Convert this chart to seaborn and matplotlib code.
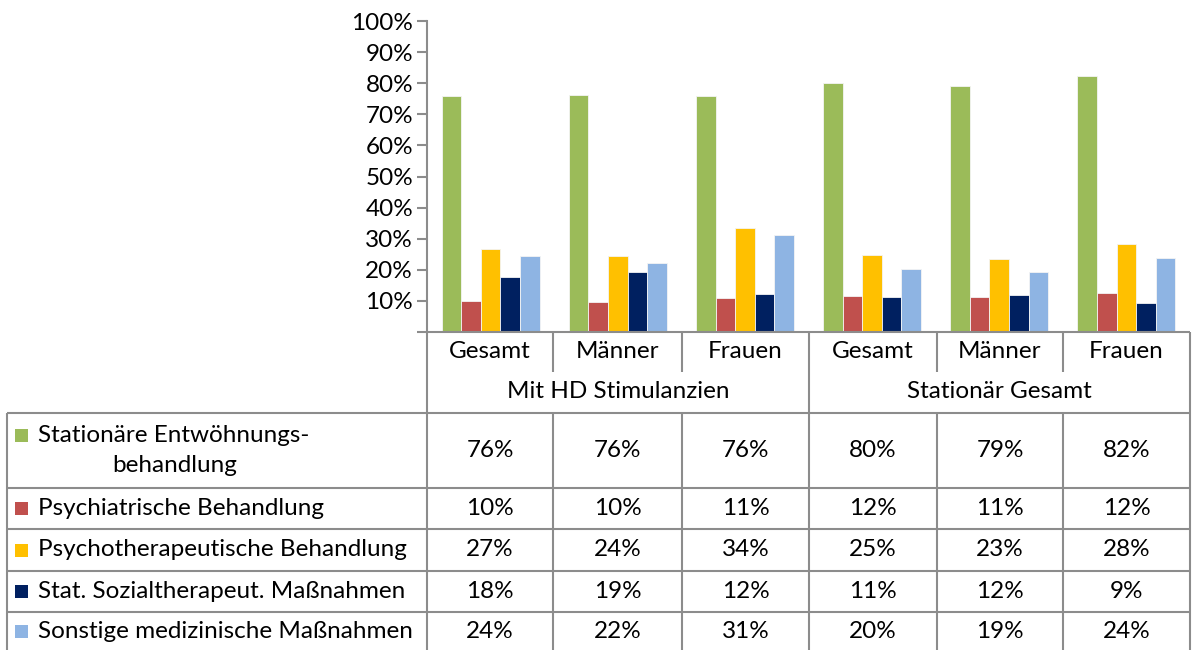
import matplotlib
matplotlib.use("Agg")
import matplotlib.pyplot as plt
from matplotlib.lines import Line2D
from matplotlib.patches import Rectangle
import seaborn as sns
import pandas as pd

# ---------------- data ----------------
groups = ["Mit HD Stimulanzien", "Stationär Gesamt"]
subgroups = ["Gesamt", "Männer", "Frauen"]
series = [
    "Stationäre Entwöhnungsbehandlung",
    "Psychiatrische Behandlung",
    "Psychotherapeutische Behandlung",
    "Stat. Sozialtherapeut. Maßnahmen",
    "Sonstige medizinische Maßnahmen",
]
series_labels = [
    "Stationäre Entwöhnungs-\nbehandlung",
    "Psychiatrische Behandlung",
    "Psychotherapeutische Behandlung",
    "Stat. Sozialtherapeut. Maßnahmen",
    "Sonstige medizinische Maßnahmen",
]
# values per column: HD Gesamt, HD Männer, HD Frauen, Stat Gesamt, Stat Männer, Stat Frauen
entwoehnung = [75.9, 76.2, 75.9, 80.0, 79.2, 82.4]
psychiatrisch = [10.0, 9.6, 10.9, 11.7, 11.4, 12.4]
psychotherapeutisch = [26.7, 24.4, 33.6, 24.6, 23.4, 28.2]
sozialtherapeutisch = [17.7, 19.3, 12.2, 11.2, 11.9, 9.2]
sonstige = [24.4, 22.2, 31.3, 20.4, 19.3, 23.7]
yticks = [0, 10, 20, 30, 40, 50, 60, 70, 80, 90, 100]

colors = ["#9BBB59", "#C0504D", "#FFC000", "#002060", "#8EB4E3"]

all_values = [entwoehnung, psychiatrisch, psychotherapeutisch, sozialtherapeutisch, sonstige]
col_keys = [f"{g}|{s}" for g in groups for s in subgroups]
rows = []
for sname, vals in zip(series, all_values):
    for key, v in zip(col_keys, vals):
        rows.append({"col": key, "series": sname, "val": v})
df = pd.DataFrame(rows)

# ---------------- figure ----------------
sns.set_theme(style="white")
FONT = ["Lato", "DejaVu Sans"]
plt.rcParams["font.family"] = FONT

W, H = 1194, 650
fig = plt.figure(figsize=(W / 100, H / 100), dpi=100)


def fx(x):
    return x / W


def fy(y):
    return 1 - y / H


x_left, x_right = 427, 1190
y_top, y_base = 21, 332
ax = fig.add_axes([fx(x_left), fy(y_base), (x_right - x_left) / W, (y_base - y_top) / H])

sns.barplot(data=df, x="col", y="val", hue="series", order=col_keys, hue_order=series,
            palette=colors, width=0.77, saturation=1, edgecolor="#f4f4f4", linewidth=0.6,
            legend=False, ax=ax)

FS = 17.5
ax.set_xlim(-0.5, len(col_keys) - 0.5)
ax.set_ylim(0, 100)
ax.set_yticks(yticks)
ax.set_yticklabels(["" if t == 0 else f"{t}%" for t in yticks])
ax.set_xticks([])
ax.set_xlabel("")
ax.set_ylabel("")
for s in ["top", "right", "bottom"]:
    ax.spines[s].set_visible(False)
ax.spines["left"].set_color("#8c8c8c")
ax.spines["left"].set_linewidth(1.5)
ax.tick_params(axis="y", direction="out", length=7, width=1.5, color="#8c8c8c",
               labelsize=FS, labelcolor="black", pad=3, left=True)

# ---------------- data table ----------------
LC = "#8c8c8c"
LW = 1.5


def hline(x1, x2, y):
    fig.add_artist(Line2D([fx(x1), fx(x2)], [fy(y), fy(y)], transform=fig.transFigure,
                          color=LC, lw=LW, solid_capstyle="butt"))


def vline(x, y1, y2):
    fig.add_artist(Line2D([fx(x), fx(x)], [fy(y1), fy(y2)], transform=fig.transFigure,
                          color=LC, lw=LW, solid_capstyle="butt"))


col_x = [427, 553, 682, 809, 937, 1063, 1190]
row_y = [413, 488, 529, 571, 612, 650]
left_x = 7

hline(x_left, x_right, y_base)
hline(left_x, x_right, row_y[0])
for y in row_y[1:-1]:
    hline(left_x, x_right, y)
vline(left_x, row_y[0], 650)
for i, x in enumerate(col_x):
    if i in (0, 3, 6):
        vline(x, y_base, 650)
    else:
        vline(x, y_base, 372)
        vline(x, row_y[0], 650)

for i, name in enumerate(subgroups * len(groups)):
    cx = (col_x[i] + col_x[i + 1]) / 2
    fig.text(fx(cx), fy(352), name, ha="center", va="center", fontsize=FS, color="black")
for gi, g in enumerate(groups):
    cx = (col_x[gi * 3] + col_x[gi * 3 + 3]) / 2
    fig.text(fx(cx), fy(392), g, ha="center", va="center", fontsize=FS, color="black")

for ri, (lab, vals, c) in enumerate(zip(series_labels, all_values, colors)):
    cy = (row_y[ri] + row_y[ri + 1]) / 2
    if "\n" in lab:
        l1, l2 = lab.split("\n")
        fig.text(fx(38), fy(436), l1, ha="left", va="center", fontsize=FS, color="black")
        fig.text(fx(175), fy(466), l2, ha="center", va="center", fontsize=FS, color="black")
        sq_y = 435
    else:
        fig.text(fx(38), fy(cy), lab, ha="left", va="center", fontsize=FS, color="black")
        sq_y = cy
    fig.add_artist(Rectangle((fx(15), fy(sq_y + 6.5)), 13 / W, 13 / H, transform=fig.transFigure,
                             facecolor=c, edgecolor="none"))
    for ci, v in enumerate(vals):
        cx = (col_x[ci] + col_x[ci + 1]) / 2
        fig.text(fx(cx), fy(cy), f"{round(v)}%", ha="center", va="center", fontsize=FS,
                 color="black")

fig.savefig("out.png", dpi=100)
